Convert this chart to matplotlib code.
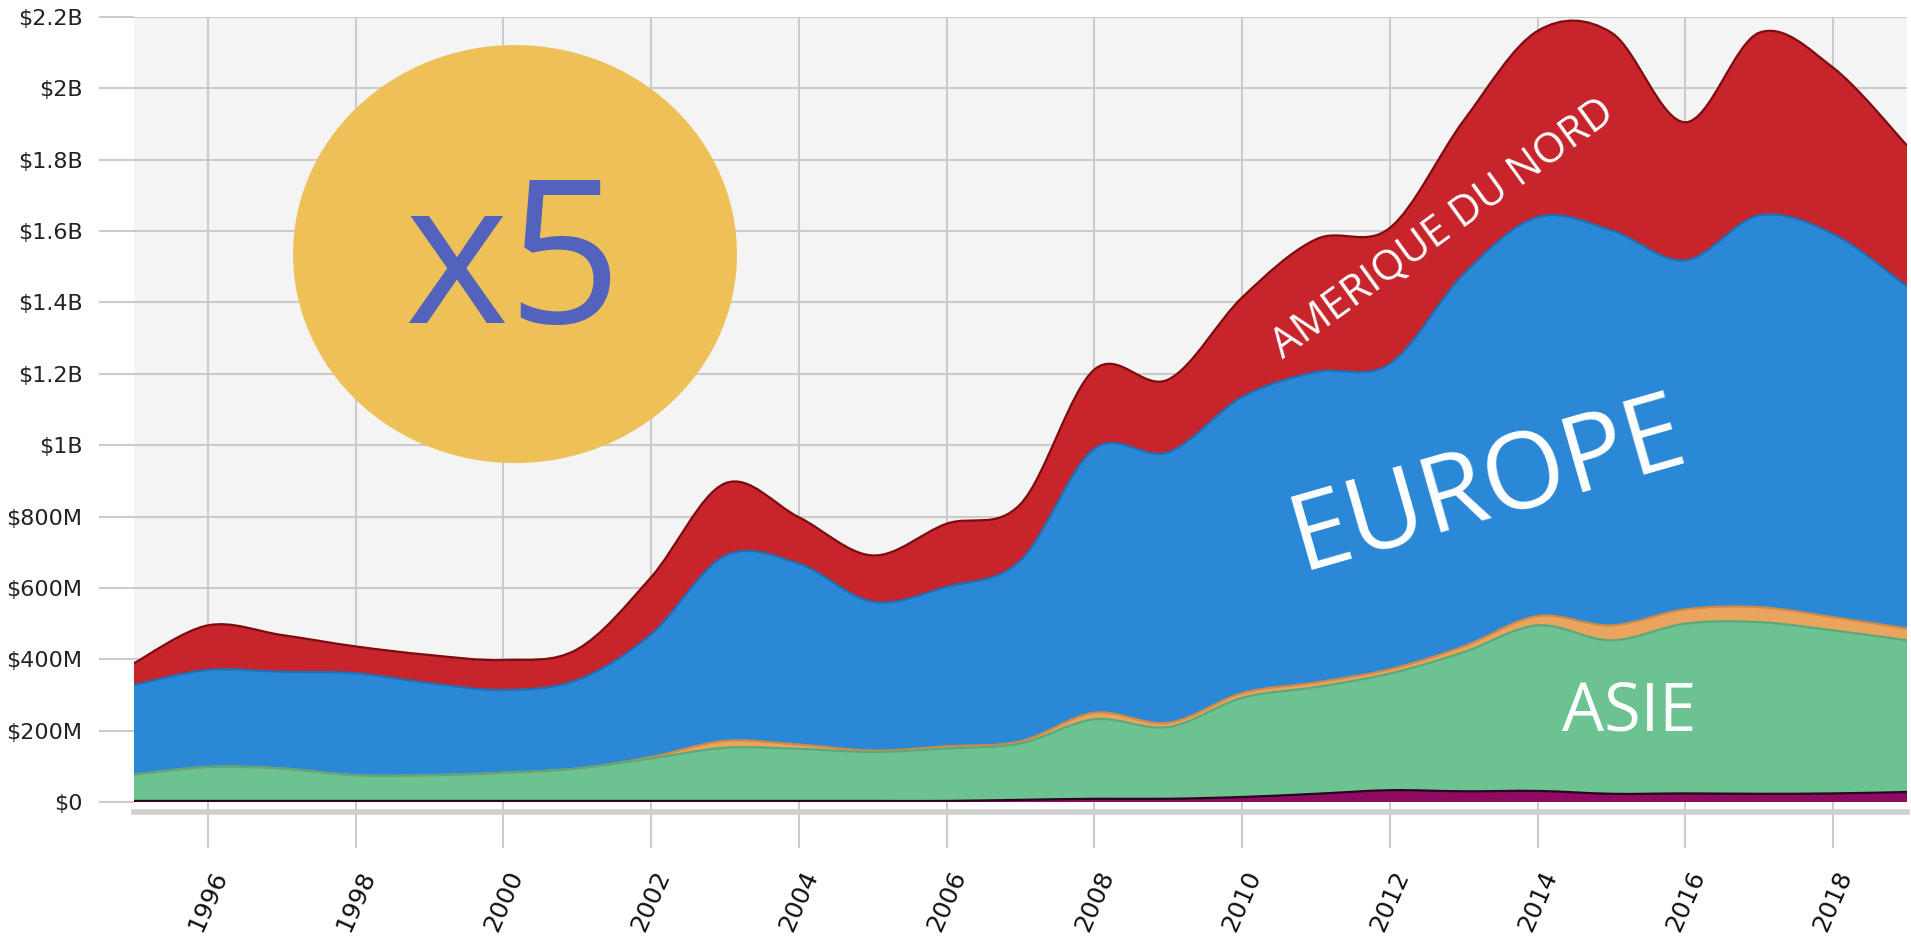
import numpy as np
import matplotlib
matplotlib.use("Agg")
import matplotlib.pyplot as plt
from matplotlib.path import Path
from matplotlib.patches import PathPatch, Ellipse

# montants annuels par region (millions de $)
annees = [1995, 1996, 1997, 1998, 1999, 2000, 2001, 2002, 2003, 2004, 2005, 2006,
          2007, 2008, 2009, 2010, 2011, 2012, 2013, 2014, 2015, 2016, 2017, 2018, 2019]
autres1 = [3, 3, 3, 3, 3, 3, 3, 3, 3, 3, 3, 3, 6, 9, 9, 14, 23, 33, 30, 31, 23, 24, 23, 24, 28]
asie = [74, 95, 91, 72, 72, 79, 91, 119, 149, 146, 137, 147, 158, 223, 201, 278, 299, 327,
        390, 464, 430, 476, 481, 457, 425]
autres2 = [0, 0, 0, 0, 0, 0, 0, 4, 19, 12, 4, 6, 6, 18, 12, 13, 13, 12, 16, 26, 42, 40, 42, 37, 33]
europe = [251, 272, 271, 286, 258, 232, 248, 344, 519, 507, 417, 447, 507, 740, 758, 830, 870,
          856, 1044, 1118, 1107, 978, 1098, 1074, 959]
amerique_nord = [61, 125, 103, 75, 79, 84, 86, 160, 203, 130, 130, 177, 158, 222, 204, 279, 372,
                 381, 430, 522, 554, 387, 512, 466, 395]

couches = [autres1, asie, autres2, europe, amerique_nord]
couleurs = ['#8e0b62', '#6cc291', '#e9a55d', '#2b88d6', '#c8242b']
bords = ['#2a0420', '#5aa97c', '#d08a45', '#1f6fb5', '#7d0c0f']

y_ticks = [0, 200, 400, 600, 800, 1000, 1200, 1400, 1600, 1800, 2000, 2200]
y_labels = ['$0', '$200M', '$400M', '$600M', '$800M', '$1B', '$1.2B', '$1.4B', '$1.6B',
            '$1.8B', '$2B', '$2.2B']
x_ticks = list(range(1996, 2019, 2))


def courbe(x, y):
    # segments de Bezier (Catmull-Rom) passant par chaque point
    n = len(x)
    verts = [(x[0], y[0])]
    codes = [Path.MOVETO]
    for i in range(n - 1):
        a = i - 1 if i > 0 else i
        d = i + 2 if i + 2 < n else i + 1
        c1 = (x[i] + (x[i + 1] - x[a]) / 6.0, y[i] + (y[i + 1] - y[a]) / 6.0)
        c2 = (x[i + 1] - (x[d] - x[i]) / 6.0, y[i + 1] - (y[d] - y[i]) / 6.0)
        verts += [c1, c2, (x[i + 1], y[i + 1])]
        codes += [Path.CURVE4] * 3
    return verts, codes


fig = plt.figure(figsize=(19.11, 9.38), dpi=100)
ax = fig.add_axes([134 / 1911, 1 - 802 / 938, 1773 / 1911, 785 / 938])
ax.set_facecolor('#f4f4f4')
ax.set_axisbelow(True)

x = np.array(annees, dtype=float)
cumul = np.cumsum(np.array(couches, dtype=float), axis=0)

# on peint du haut vers le bas pour eviter les coutures
for k in range(len(couches) - 1, -1, -1):
    verts, codes = courbe(x, cumul[k])
    poly = verts + [(x[-1], 0), (x[0], 0), (x[0], 0)]
    pc = codes + [Path.LINETO, Path.LINETO, Path.CLOSEPOLY]
    ax.add_patch(PathPatch(Path(poly, pc), facecolor=couleurs[k], edgecolor='none', zorder=2))
    ax.add_patch(PathPatch(Path(verts, codes), facecolor='none', edgecolor=bords[k],
                           lw=1.6, zorder=3))

ax.set_xlim(1995, 2019)
ax.set_ylim(0, 2200)
ax.set_xticks(x_ticks)
ax.set_xticklabels([str(a) for a in x_ticks], rotation=66, ha='center', va='top',
                   fontsize=18, color='#111111')
ax.set_yticks(y_ticks)
ax.set_yticklabels(y_labels, fontsize=16, color='#222222')
ax.tick_params(axis='y', length=25, width=1.5, color='#cccccc', pad=12)
ax.tick_params(axis='x', length=33, width=1.5, color='#cccccc', pad=14)
ax.grid(True, color='#cbcbcb', lw=1.5)
for s in ax.spines.values():
    s.set_visible(False)
ax.axhline(-28, color='#cfcfcf', lw=4, clip_on=False, zorder=1)

# pastille x5
ax.add_patch(Ellipse((0.2149, 0.698), 0.2504, 0.5325, transform=ax.transAxes,
                     facecolor='#edc157', edgecolor='none', zorder=5))
ax.text(0.2138, 0.610, 'x5', transform=ax.transAxes, ha='center', va='baseline',
        fontsize=143, color='#5262bd', family='Open Sans', zorder=6)

ax.text(0.7637, 0.4013, 'EUROPE', transform=ax.transAxes, ha='center', va='center',
        rotation=16, rotation_mode='anchor', fontsize=76, color='white',
        family='Open Sans', zorder=6)
ax.text(0.7385, 0.7300, 'AMERIQUE DU NORD', transform=ax.transAxes, ha='center',
        va='center', rotation=36, rotation_mode='anchor', fontsize=30, color='white',
        family='Open Sans', zorder=6)
ax.text(0.8432, 0.1140, 'ASIE', transform=ax.transAxes, ha='center', va='center',
        fontsize=48, color='white', family='Open Sans', zorder=6)

fig.savefig('out.png', dpi=100, facecolor='white')
